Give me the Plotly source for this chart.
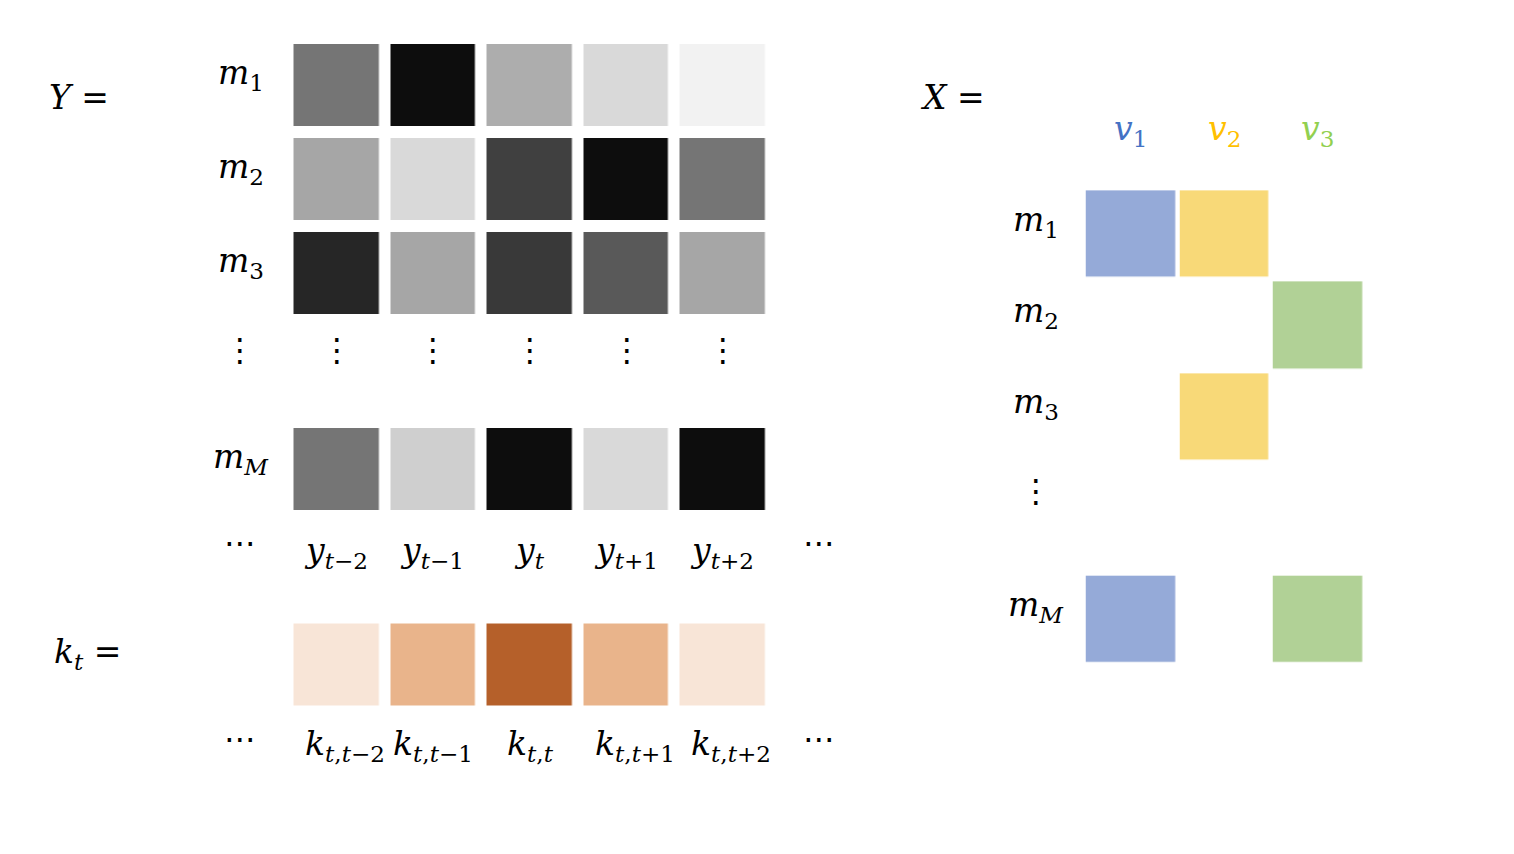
import plotly.graph_objects as go

# ---- data ----
y_rows = ["<i>m</i><sub>1</sub>", "<i>m</i><sub>2</sub>", "<i>m</i><sub>3</sub>"]
y_last_row = "<i>m</i><sub><i>M</i></sub>"
y_cols = ["<i>y</i><sub><i>t</i>−2</sub>", "<i>y</i><sub><i>t</i>−1</sub>", "<i>y</i><sub><i>t</i></sub>",
          "<i>y</i><sub><i>t</i>+1</sub>", "<i>y</i><sub><i>t</i>+2</sub>"]
# grey level of each cell (0 = black, 255 = white)
y_gray = [
    [117, 13, 173, 217, 242],
    [166, 217, 64, 13, 117],
    [38, 166, 57, 89, 166],
]
y_gray_last = [[117, 207, 13, 217, 13]]

k_cols = ["<i>k</i><sub><i>t</i>,<i>t</i>−2</sub>", "<i>k</i><sub><i>t</i>,<i>t</i>−1</sub>",
          "<i>k</i><sub><i>t</i>,<i>t</i></sub>", "<i>k</i><sub><i>t</i>,<i>t</i>+1</sub>",
          "<i>k</i><sub><i>t</i>,<i>t</i>+2</sub>"]
k_weights = [[0.15, 0.5, 1.0, 0.5, 0.15]]

x_cols = ["<i>v</i><sub>1</sub>", "<i>v</i><sub>2</sub>", "<i>v</i><sub>3</sub>"]
x_col_colors = ["#4472C4", "#FFC000", "#92D050"]
# which variable each m_i belongs to (1, 2, 3), None = empty
x_member = [
    [1, 2, None],
    [None, None, 3],
    [None, 2, None],
]
x_member_last = [[1, None, 3]]

# ---- layout (page pixel units; the page body adds an 8px margin) ----
W, H = 1514, 854
OFF = 8
FONT = "DejaVu Serif"
FS = 33

YX0, YDX, YW = 336.8, 96.6, 85
YY0, YDY, YH = 85, 94, 82
Y_LAST = 469
K_Y = 664.5

XX0, XDX, XW = 1130.5, 93.5, 89
XY0, XDY, XH = 234, 91.3, 86.5
X_LAST = 619.3

gray_scale = [[0, "rgb(0,0,0)"], [1, "rgb(255,255,255)"]]
kernel_scale = [[0, "#FFFFFF"], [0.15, "#F8E5D7"], [0.5, "#E9B48B"], [1, "#B5602A"]]
member_scale = [[0, "#95AAD8"], [0.5, "#F8D978"], [1, "#B1D196"]]

fig = go.Figure()

def heat(z, x0, dx, y0, dy, gx, gy, scale, zmin, zmax):
    fig.add_trace(go.Heatmap(z=z, x0=x0, dx=dx, y0=y0, dy=dy, xgap=gx, ygap=gy,
                             colorscale=scale, zmin=zmin, zmax=zmax,
                             showscale=False, hoverinfo="skip"))

heat(y_gray, YX0, YDX, YY0, YDY, YDX - YW, YDY - YH, gray_scale, 0, 255)
heat(y_gray_last, YX0, YDX, Y_LAST, YDY, YDX - YW, YDY - YH, gray_scale, 0, 255)
heat(k_weights, YX0, YDX, K_Y, YDY, YDX - YW, YDY - YH, kernel_scale, 0, 1)
heat(x_member, XX0, XDX, XY0, XDY, XDX - XW, XDY - XH, member_scale, 1, 3)
heat(x_member_last, XX0, XDX, X_LAST, XDY, XDX - XW, XDY - XH, member_scale, 1, 3)

ann = []

def txt(x, y, s, color="black", size=FS, family=FONT):
    ann.append(dict(x=x, y=y, xref="x", yref="y", text=s, showarrow=False,
                    font=dict(family=family, size=size, color=color)))

txt(79, 97, "<i>Y</i> =")
txt(87, 653, "<i>k</i><sub><i>t</i></sub> =")
txt(952, 97, "<i>X</i> =")

lab_x = YX0 - YDX
for i, r in enumerate(y_rows):
    txt(lab_x + 1, YY0 + i * YDY - 11, r)
txt(lab_x + 1, Y_LAST - 11, y_last_row)

# vertical dots under the Y rows
for j in range(len(y_cols) + 1):
    txt(lab_x + j * YDX, 350, "⋮", size=32, family="DejaVu Sans", color="#000000")

for j, c in enumerate(y_cols):
    txt(YX0 + j * YDX - 1, 552, c)
    txt(YX0 + j * YDX + (8 if j in (0, 3, 4) else 0), 745, k_cols[j])
for yy in (546, 742):
    txt(lab_x, yy - 3, "⋯", size=32, family="DejaVu Sans")
    txt(YX0 + len(y_cols) * YDX - 0.5, yy - 3, "⋯", size=32, family="DejaVu Sans")

mx = XX0 - XDX - 1
for i, r in enumerate(y_rows):
    txt(mx, XY0 + i * XDY - 13, r)
txt(mx, X_LAST - 13, y_last_row)
txt(mx, 491, "⋮", size=32, family="DejaVu Sans")

for j, c in enumerate(x_cols):
    txt(XX0 + j * XDX, 130, c, color=x_col_colors[j])

fig.update_layout(
    width=W, height=H,
    margin=dict(l=0, r=0, t=0, b=0),
    paper_bgcolor="white", plot_bgcolor="white",
    annotations=ann,
    xaxis=dict(range=[OFF, W + OFF], visible=False, fixedrange=True),
    yaxis=dict(range=[H + OFF, OFF], visible=False, fixedrange=True),
    showlegend=False,
)

fig.write_html("out.html")
